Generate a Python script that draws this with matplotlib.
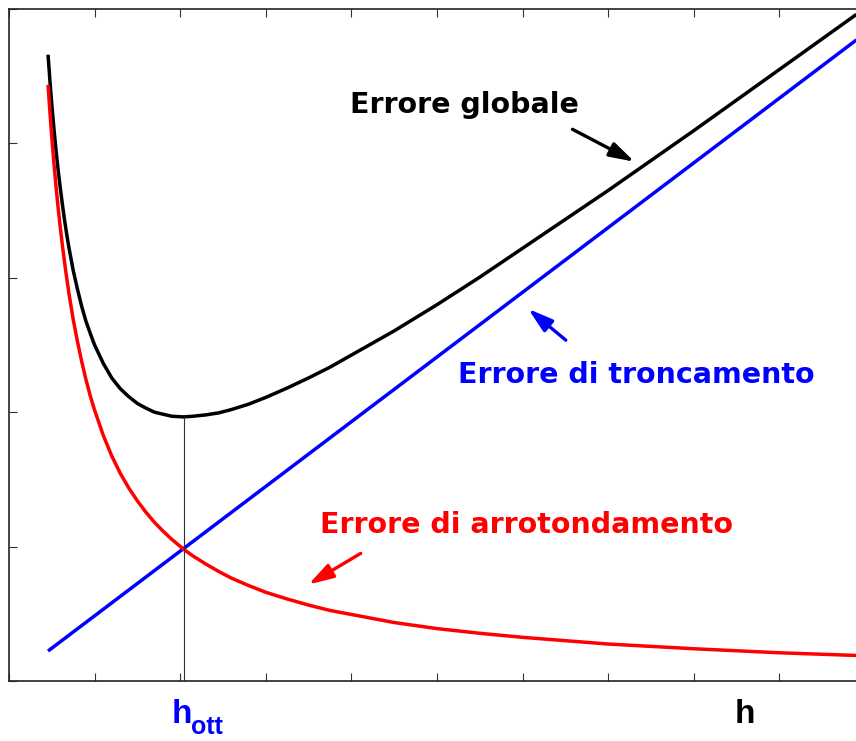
import matplotlib
matplotlib.use("Agg")
import matplotlib.pyplot as plt

# data (axes units 0..1)
h = [0.0456, 0.048, 0.05, 0.0525, 0.055, 0.0575, 0.06, 0.0625, 0.065, 0.0675,
     0.07, 0.075, 0.08, 0.085, 0.09, 0.095, 0.10, 0.11, 0.12, 0.13, 0.14, 0.15,
     0.16, 0.17, 0.18, 0.19, 0.204, 0.215, 0.23, 0.245, 0.26, 0.28, 0.30, 0.325,
     0.35, 0.375, 0.40, 0.45, 0.50, 0.55, 0.60, 0.70, 0.80, 0.90, 0.99]
err_round = [0.887, 0.843, 0.809, 0.770, 0.735, 0.703, 0.674, 0.647, 0.622, 0.599,
             0.577, 0.538, 0.505, 0.475, 0.448, 0.424, 0.403, 0.366, 0.335, 0.309,
             0.287, 0.268, 0.251, 0.236, 0.223, 0.211, 0.196, 0.186, 0.174, 0.163,
             0.153, 0.142, 0.132, 0.122, 0.113, 0.105, 0.099, 0.087, 0.078, 0.071,
             0.065, 0.055, 0.048, 0.042, 0.038]
err_glob = [0.932, 0.890, 0.858, 0.822, 0.789, 0.759, 0.733, 0.708, 0.685, 0.664,
            0.645, 0.611, 0.583, 0.557, 0.535, 0.517, 0.500, 0.473, 0.451, 0.435,
            0.423, 0.413, 0.406, 0.400, 0.397, 0.394, 0.393, 0.394, 0.396, 0.399,
            0.404, 0.412, 0.422, 0.436, 0.451, 0.467, 0.485, 0.521, 0.560, 0.601,
            0.644, 0.730, 0.819, 0.910, 0.992]
h_trunc = [0.0456, 0.99]
err_trunc = [0.0446, 0.954]
h_opt = 0.2044
err_opt = 0.393

fig = plt.figure(figsize=(8.56, 7.41), dpi=100)
W, H = 856, 741
ax = fig.add_axes([9 / W, (H - 681) / H, 856 / W, 672 / H])
ax.set_xlim(0, 1)
ax.set_ylim(0, 1)

lw = 2.5
ax.plot(h, err_glob, color="black", lw=lw, solid_capstyle="butt", solid_joinstyle="round")
ax.plot(h_trunc, err_trunc, color="#0000ff", lw=lw, solid_capstyle="butt")
ax.plot(h, err_round, color="#ff0000", lw=lw, solid_capstyle="butt", solid_joinstyle="round")
ax.plot([h_opt, h_opt], [0, err_opt], color="#333333", lw=0.8)

ax.set_xticks([i / 10 for i in range(11)])
ax.set_yticks([i / 5 for i in range(6)])
ax.set_xticklabels([])
ax.set_yticklabels([])
ax.tick_params(direction="in", length=6, width=0.8, color="#333333",
               top=True, right=True)
for s in ax.spines.values():
    s.set_linewidth(1.2)
    s.set_color("#222222")

tfont = "DejaVu Sans"
ax.text(0.398, 0.845, "Errore globale", color="black", fontsize=20.5,
        fontweight="bold", family=tfont, ha="left", va="baseline")
ax.text(0.5245, 0.4435, "Errore di troncamento", color="#0000ff", fontsize=20.5,
        fontweight="bold", family=tfont, ha="left", va="baseline")
ax.text(0.3633, 0.2202, "Errore di arrotondamento", color="#ff0000", fontsize=20.5,
        fontweight="bold", family=tfont, ha="left", va="baseline")

arrow = dict(arrowstyle="-|>,head_length=1.5,head_width=0.45", lw=2.4)
ax.annotate("", xy=(0.7336, 0.7708), xytext=(0.6554, 0.8229),
            arrowprops=dict(arrow, color="black"))
ax.annotate("", xy=(0.6040, 0.5565), xytext=(0.653, 0.5045),
            arrowprops=dict(arrow, color="#0000ff"))
ax.annotate("", xy=(0.3470, 0.1414), xytext=(0.4136, 0.1920),
            arrowprops=dict(arrow, color="#ff0000"))

font = "Liberation Sans"
ax.text(0.1904, -0.0625, "h", color="#0000ff", fontsize=24, fontweight="bold",
        family=font, ha="left", va="baseline", clip_on=False)
ax.text(0.2126, -0.079, "ott", color="#0000ff", fontsize=18, fontweight="bold",
        family=font, ha="left", va="baseline", clip_on=False)
ax.text(0.848, -0.0625, "h", color="black", fontsize=24, fontweight="bold",
        family=font, ha="left", va="baseline", clip_on=False)

fig.savefig("out.png", dpi=100)
